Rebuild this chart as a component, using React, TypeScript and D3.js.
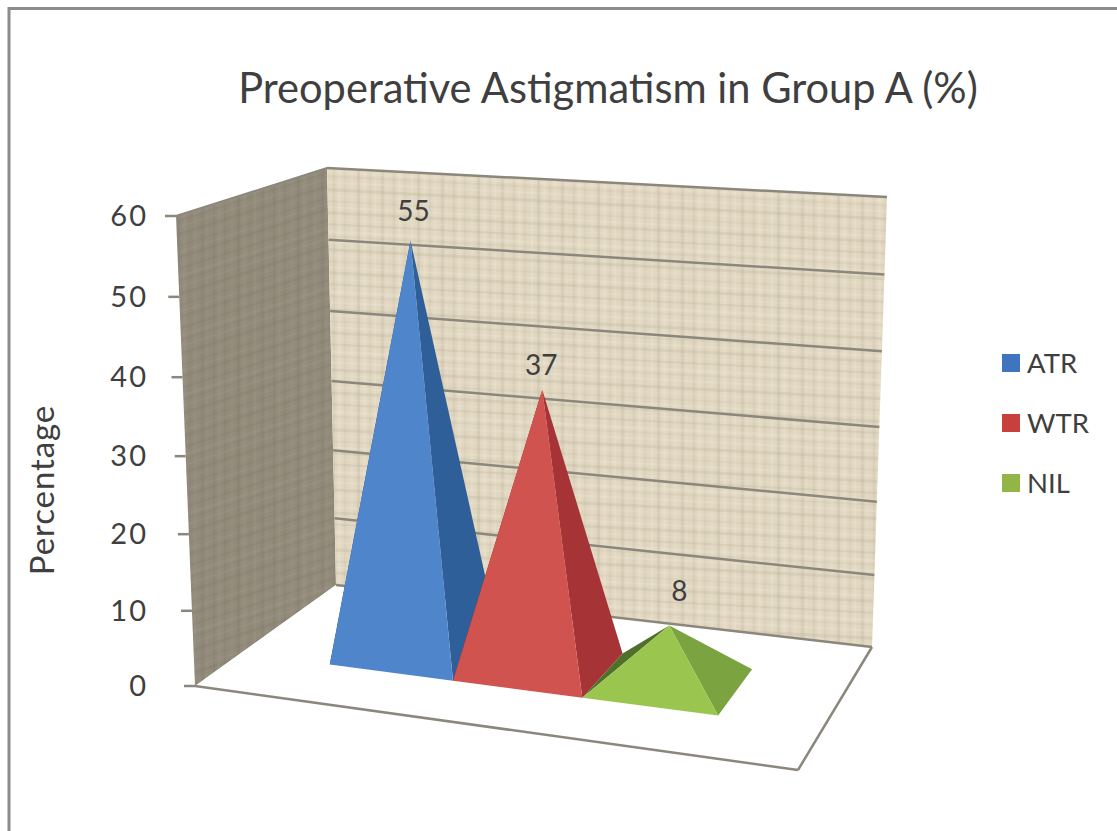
import React from "react";
import * as d3 from "d3";

// Chart content
const titleText = "Preoperative Astigmatism in Group A (%)";
const axisTitle = "Percentage";
const seriesNames = ["ATR", "WTR", "NIL"];
const seriesValues = [55, 37, 8];
const valueTicks = [0, 10, 20, 30, 40, 50, 60];
// Share of the box height reached by each tick under the chart's perspective
const tickHeightShare = [0, 0.16, 0.323, 0.489, 0.657, 0.828, 1];

const frontColors = ["#4f86cb", "#d05350", "#9ac650"];
const sideColors = ["#2f5f98", "#a63335", "#7ba33f"];
const rearColors = ["#24497a", "#7f2628", "#4f7029"];
const legendColors = ["#3f74bf", "#c8403c", "#93b446"];

type Pt = [number, number];

// Corners of the 3D box on screen: floor, then the top plane
const floorQuad: Pt[] = [[195, 686], [798, 770], [872, 647], [336, 585]];
const topQuad: Pt[] = [[176, 216], [811, 245], [887, 197], [327, 168]];

// Projective map from the unit square onto a quadrilateral
function quadMap(q: Pt[]) {
  const [[x0, y0], [x1, y1], [x2, y2], [x3, y3]] = q;
  const dx1 = x1 - x2, dx2 = x3 - x2, sx = x0 - x1 + x2 - x3;
  const dy1 = y1 - y2, dy2 = y3 - y2, sy = y0 - y1 + y2 - y3;
  const den = dx1 * dy2 - dx2 * dy1;
  const g = (sx * dy2 - dx2 * sy) / den;
  const h = (dx1 * sy - sx * dy1) / den;
  const a = x1 - x0 + g * x1, b = x3 - x0 + h * x3;
  const d = y1 - y0 + g * y1, e = y3 - y0 + h * y3;
  return (u: number, w: number): Pt => {
    const z = g * u + h * w + 1;
    return [(a * u + b * w + x0) / z, (d * u + e * w + y0) / z];
  };
}

const floorAt = quadMap(floorQuad);
const topAt = quadMap(topQuad);
const heightShare = d3.scaleLinear().domain(valueTicks).range(tickHeightShare);

// u runs along the category axis, w runs from front to back
function project(u: number, value: number, w: number): Pt {
  const a = floorAt(u, w);
  const b = topAt(u, w);
  const t = heightShare(value);
  return [a[0] + (b[0] - a[0]) * t, a[1] + (b[1] - a[1]) * t];
}

const uBand = d3.scaleBand<string>().domain(seriesNames).range([0.167, 0.836]).paddingInner(0);
const depthFront = 0.3;
const depthBack = 0.69;
// Pyramid tips lean left in proportion to their height
const leanPerUnit = -0.32;

const poly = (pts: Pt[]) => pts.map((p) => `${p[0].toFixed(1)},${p[1].toFixed(1)}`).join(" ");
const seg = (a: Pt, b: Pt) => ({ x1: a[0], y1: a[1], x2: b[0], y2: b[1] });

// Irregular thread spacing gives the walls their woven look
const threadStops = [3, 9, 14, 21, 26, 33, 38, 44, 51, 57];

function Weave({ id, base, dark, light, angle }: { id: string; base: string; dark: string; light: string; angle: number }) {
  return (
    <pattern id={id} width={60} height={60} patternUnits="userSpaceOnUse" patternTransform={`skewY(${angle})`}>
      <rect width={60} height={60} fill={base} />
      {threadStops.map((s, i) => (
        <g key={s}>
          <rect x={s} y={0} width={i % 3 === 0 ? 3 : 2} height={60} fill={i % 2 ? dark : light} opacity={i % 3 === 1 ? 0.16 : 0.26} />
          <rect x={0} y={s} width={60} height={i % 3 === 2 ? 3 : 2} fill={i % 2 ? light : dark} opacity={i % 3 === 0 ? 0.14 : 0.24} />
        </g>
      ))}
    </pattern>
  );
}

export default function App() {
  const font = "Lato, 'Open Sans', sans-serif";
  const textColor = "#3f3f3f";
  const edge = "#8b877c";

  const pyramids = seriesNames.map((name, i) => {
    const u0 = uBand(name)!;
    const u1 = u0 + uBand.bandwidth();
    const fl = project(u0, 0, depthFront);
    const fr = project(u1, 0, depthFront);
    const br = project(u1, 0, depthBack);
    const bl = project(u0, 0, depthBack);
    const tip = project((u0 + u1) / 2, seriesValues[i], (depthFront + depthBack) / 2);
    const apex: Pt = [tip[0] + leanPerUnit * seriesValues[i], tip[1] + 2.5];
    return { name, i, fl, fr, br, bl, apex };
  });

  const labelNudge: Pt[] = [[3, -20], [-1, -15], [10, -24]];

  return (
    <svg width={1117} height={831} style={{ position: "absolute", left: 0, top: 0, background: "#fff" }}>
      <defs>
        <Weave id="rearWall" base="#e1d7c1" dark="#b5aa92" light="#f2eadb" angle={3} />
        <Weave id="sideWall" base="#928a7a" dark="#7b7466" light="#a39b8b" angle={-18} />
      </defs>

      {/* chart frame */}
      <line x1={9} y1={8.5} x2={1117} y2={8.5} stroke="#8c8c8c" strokeWidth={3} />
      <line x1={9} y1={7} x2={9} y2={831} stroke="#8c8c8c" strokeWidth={3} />

      <text x={608} y={103} textAnchor="middle" fontFamily={font} fontSize={41.6} fill={textColor}>{titleText}</text>

      {/* walls */}
      <polygon points={poly([topAt(0, 0), topAt(0, 1), floorAt(0, 1), floorAt(0, 0)])} fill="url(#sideWall)" />
      <polygon points={poly([topAt(0, 1), topAt(1, 1), floorAt(1, 1), floorAt(0, 1)])} fill="url(#rearWall)" />

      {/* gridlines along the rear wall */}
      {valueTicks.slice(1).map((t) => (
        <line key={t} {...seg(project(0, t, 1), project(1, t, 1))} stroke={edge} strokeWidth={2.5} />
      ))}
      <line {...seg(project(0, 60, 0), project(0, 60, 1))} stroke={edge} strokeWidth={2} />

      {/* floor */}
      <polygon points={poly(floorQuad)} fill="#ffffff" />
      <line {...seg(floorQuad[3], floorQuad[2])} stroke={edge} strokeWidth={2.5} />
      <line {...seg(floorQuad[0], floorQuad[1])} stroke={edge} strokeWidth={2.5} />
      <line {...seg(floorQuad[1], floorQuad[2])} stroke={edge} strokeWidth={2.5} />

      {/* value axis */}
      {valueTicks.map((t) => {
        const p = project(0, t, 0);
        return (
          <g key={t}>
            <line x1={p[0] - 11} y1={p[1]} x2={p[0]} y2={p[1]} stroke={edge} strokeWidth={2.5} />
            <text x={148} y={p[1] + 10} textAnchor="end" fontFamily={font} fontSize={29} letterSpacing={2} fill={textColor}>{t}</text>
          </g>
        );
      })}
      <text transform="translate(54,490) rotate(-90)" textAnchor="middle" fontFamily={font} fontSize={33} letterSpacing={0.9} fill={textColor}>{axisTitle}</text>

      {/* pyramids, back faces first so the next one overlaps its neighbour */}
      {pyramids.map((p) => (
        <g key={p.name}>
          <polygon points={poly([p.fl, p.bl, p.apex])} fill={rearColors[p.i]} />
          <polygon points={poly([p.fr, p.br, p.apex])} fill={sideColors[p.i]} />
          <polygon points={poly([p.fl, p.fr, p.apex])} fill={frontColors[p.i]} />
          <text x={p.apex[0] + labelNudge[p.i][0]} y={p.apex[1] + labelNudge[p.i][1]} textAnchor="middle" fontFamily={font} fontSize={28} fill={textColor}>
            {seriesValues[p.i]}
          </text>
        </g>
      ))}

      {/* legend */}
      {seriesNames.map((name, i) => {
        const y = d3.scalePoint<string>().domain(seriesNames).range([363, 483])(name)!;
        return (
          <g key={name}>
            <rect x={1002} y={y - 9} width={18} height={18} fill={legendColors[i]} />
            <text x={1027} y={y + 9.5} fontFamily={font} fontSize={27.5} fill={textColor}>{name}</text>
          </g>
        );
      })}
    </svg>
  );
}
